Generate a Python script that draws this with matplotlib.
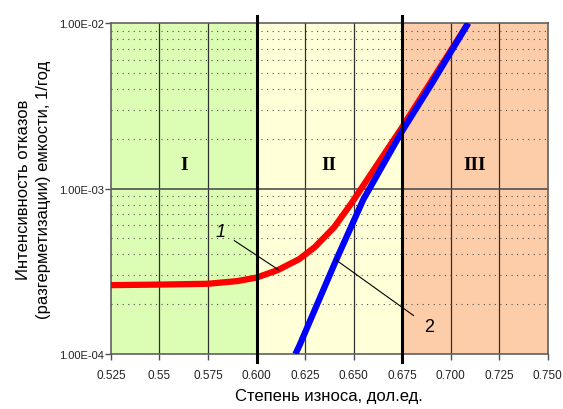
import numpy as np
import matplotlib.pyplot as plt
from matplotlib.ticker import FixedLocator, LogLocator, NullFormatter

# zone boundaries and labels
zone_edges = [0.525, 0.600, 0.675, 0.750]
zone_colors = ['#dcfdb4', '#ffffd8', '#fdcdaa']
zone_names = ['I', 'II', 'III']
zone_label_x = [0.5625, 0.6375, 0.7125]
zone_label_y = 1.4e-3

# curve 1 (red)
x1 = [0.525, 0.55, 0.575, 0.59, 0.600, 0.611, 0.622, 0.63, 0.64, 0.649,
      0.66, 0.675, 0.69, 0.709]
y1 = [2.61e-4, 2.63e-4, 2.66e-4, 2.76e-4, 2.90e-4, 3.22e-4, 3.75e-4,
      4.43e-4, 5.85e-4, 8.2e-4, 1.28e-3, 2.35e-3, 4.46e-3, 1.0e-2]

# curve 2 (blue)
x2 = [0.620, 0.622, 0.641, 0.655, 0.675, 0.69, 0.709]
y2 = [1.0e-4, 1.12e-4, 3.70e-4, 8.6e-4, 2.23e-3, 4.27e-3, 1.0e-2]

x_ticks = [0.525, 0.55, 0.575, 0.600, 0.625, 0.650, 0.675, 0.700, 0.725, 0.750]
x_tick_labels = ['0.525', '0.55', '0.575', '0.600', '0.625', '0.650',
                 '0.675', '0.700', '0.725', '0.750']
y_ticks = [1e-4, 1e-3, 1e-2]
y_tick_labels = ['1.00E-04', '1.00E-03', '1.00E-02']

plt.rcParams['font.family'] = ['Liberation Sans', 'DejaVu Sans']

fig = plt.figure(figsize=(5.63, 4.10), dpi=100)
ax = fig.add_axes([0.197, 0.134, 0.776, 0.807])

for i in range(3):
    ax.axvspan(zone_edges[i], zone_edges[i + 1], color=zone_colors[i], zorder=0, lw=0)

ax.set_xlim(0.525, 0.750)
ax.set_yscale('log')
ax.set_ylim(1e-4, 1e-2)

# grid
for xv in x_ticks[1:-1]:
    ax.axvline(xv, color='#303030', lw=0.9, zorder=1)
ax.yaxis.set_minor_locator(LogLocator(base=10, subs=np.arange(2, 10)))
ax.yaxis.set_minor_formatter(NullFormatter())
ax.grid(True, which='minor', axis='y', color='#505050', lw=0.8,
        linestyle=(0, (1, 4)), zorder=1)
ax.axhline(1e-3, color='#505050', lw=1.2, zorder=1)

# zone borders, sticking out a bit above and below the plot
for xv in zone_edges[1:3]:
    ax.plot([xv, xv], [-0.024, 1.022], transform=ax.get_xaxis_transform(),
            color='black', lw=2.2, clip_on=False, zorder=4)

ax.plot(x1, y1, color='#ff0000', lw=4.5, solid_capstyle='butt', zorder=3)
ax.plot(x2, y2, color='#0000ff', lw=4.5, solid_capstyle='butt', zorder=3)

for name, xv in zip(zone_names, zone_label_x):
    ax.text(xv, zone_label_y, name, family='Liberation Serif', fontweight='bold',
            fontsize=14, ha='center', va='center', zorder=5)

# callouts
ax.annotate('1', xy=(0.6115, 3.22e-4), xytext=(0.5815, 5.5e-4), fontsize=13,
            style='italic', ha='center', va='center',
            arrowprops=dict(arrowstyle='-', color='black', lw=0.8,
                            shrinkA=5, shrinkB=0), zorder=5)
ax.annotate('2', xy=(0.641, 3.70e-4), xytext=(0.689, 1.46e-4), fontsize=13,
            ha='center', va='center',
            arrowprops=dict(arrowstyle='-', color='black', lw=0.8,
                            shrinkA=7, shrinkB=0), zorder=5)

ax.xaxis.set_major_locator(FixedLocator(x_ticks))
ax.set_xticklabels(x_tick_labels, fontsize=8.5, color='#222222')
ax.yaxis.set_major_locator(FixedLocator(y_ticks))
ax.set_yticklabels(y_tick_labels, fontsize=8, color='#222222')
ax.tick_params(axis='y', which='major', length=4, width=1, color='#505050', pad=1)
ax.tick_params(axis='y', which='minor', length=0)
ax.tick_params(axis='x', length=4, width=1, color='#505050', pad=7)

for sp in ax.spines.values():
    sp.set_color('#606060')
    sp.set_linewidth(1.2)

ax.set_xlabel('Степень износа, дол.ед.', fontsize=12, labelpad=5)
ax.set_ylabel('Интенсивность отказов\n(разгерметизации) емкости, 1/год',
              fontsize=12, labelpad=6, linespacing=1.35)

fig.savefig('out.png', dpi=100)
